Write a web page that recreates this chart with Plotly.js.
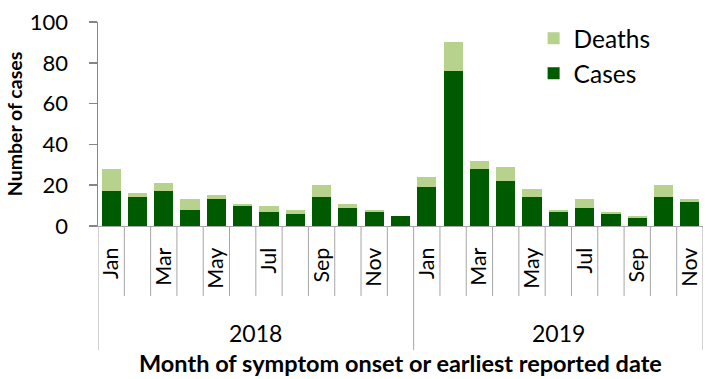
<!DOCTYPE html>
<html>
<head>
<meta charset="utf-8">
<script src="https://cdn.plot.ly/plotly-3.0.1.min.js"></script>
<style>html,body{margin:0;padding:0;background:#fff;}#chart{width:728px;height:379px;}</style>
</head>
<body>
<div id="chart"></div>
<script>
const years = ['2018', '2019'];
const months2018 = ['Jan','Feb','Mar','Apr','May','Jun','Jul','Aug','Sep','Oct','Nov','Dec'];
const months2019 = ['Jan','Feb','Mar','Apr','May','Jun','Jul','Aug','Sep','Oct','Nov'];
const cases2018  = [17, 14, 17, 8, 13, 10, 7, 6, 14, 9, 7, 5];
const deaths2018 = [11, 2, 4, 5, 2, 1, 3, 2, 6, 2, 1, 0];
const cases2019  = [19, 76, 28, 22, 14, 7, 9, 6, 4, 14, 12];
const deaths2019 = [5, 14, 4, 7, 4, 1, 4, 1, 1, 6, 1];
const xTitle = 'Month of symptom onset or earliest reported date';
const yTitle = 'Number of cases';

const monthGroups = [months2018, months2019];
const months = months2018.concat(months2019);
const cases = cases2018.concat(cases2019);
const deaths = deaths2018.concat(deaths2019);
const idx = months.map((m, i) => i);
const ticktext = [];
monthGroups.forEach(g => g.forEach((m, j) => ticktext.push(j % 2 === 0 ? m : '')));

const font = 'Lato, "Open Sans", sans-serif';
const gray = '#a6a6a6';

const traces = [
  {type: 'bar', name: 'Cases', x: idx, y: cases, marker: {color: '#005a00'}},
  {type: 'bar', name: 'Deaths', x: idx, y: deaths, marker: {color: '#b6d28c'}}
];

const shapes = [];
const annotations = [];
let start = 0;
monthGroups.forEach((g, gi) => {
  shapes.push({type: 'line', xref: 'x', yref: 'paper', x0: start - 0.5, x1: start - 0.5, y0: 0, y1: -0.608, line: {color: gray, width: 1}});
  for (let j = 1; j < g.length; j++) {
    shapes.push({type: 'line', xref: 'x', yref: 'paper', x0: start + j - 0.5, x1: start + j - 0.5, y0: 0, y1: -0.343, line: {color: gray, width: 1}});
  }
  annotations.push({xref: 'x', yref: 'paper', x: start + (g.length - 1) / 2, y: -0.525, text: years[gi], showarrow: false, font: {family: font, size: 23, color: '#000'}, yanchor: 'middle'});
  start += g.length;
});
shapes.push({type: 'line', xref: 'x', yref: 'paper', x0: start - 0.5, x1: start - 0.5, y0: 0, y1: -0.608, line: {color: gray, width: 1}});
annotations.push({xref: 'paper', yref: 'paper', x: 0.5, y: -0.672, yanchor: 'middle', text: '<b>' + xTitle + '</b>', showarrow: false, font: {family: font, size: 23.5, color: '#000'}});

const layout = {
  width: 728, height: 379,
  margin: {l: 98, r: 25, t: 22, b: 153},
  barmode: 'stack',
  bargap: 0.27,
  paper_bgcolor: '#fff', plot_bgcolor: '#fff',
  font: {family: font, color: '#000'},
  showlegend: true,
  legend: {x: 0.72, y: 1.03, xanchor: 'left', yanchor: 'top', font: {family: font, size: 24.5, color: '#000'}, bgcolor: 'rgba(0,0,0,0)', tracegroupgap: 0, itemwidth: 30},
  xaxis: {
    range: [-0.5, idx.length - 0.5],
    tickvals: idx, ticktext: ticktext,
    tickangle: -90, ticks: '', ticklabelstandoff: 12,
    tickfont: {family: font, size: 21.5, color: '#000'},
    showline: true, linecolor: gray, linewidth: 1,
    showgrid: false, zeroline: false, fixedrange: true
  },
  yaxis: {
    range: [0, 100], dtick: 20,
    ticks: 'outside', ticklen: 8, tickcolor: '#868686', tickwidth: 1.5,
    ticklabelstandoff: 16,
    tickfont: {family: font, size: 22, color: '#000'},
    showline: true, linecolor: '#868686', linewidth: 1.5,
    showgrid: false, zeroline: false,
    title: {text: '<b>' + yTitle + '</b>', font: {family: font, size: 19.5, color: '#000'}, standoff: 2}
  },
  shapes: shapes,
  annotations: annotations
};

Plotly.newPlot('chart', traces, layout, {staticPlot: true, displayModeBar: false});
</script>
</body>
</html>
